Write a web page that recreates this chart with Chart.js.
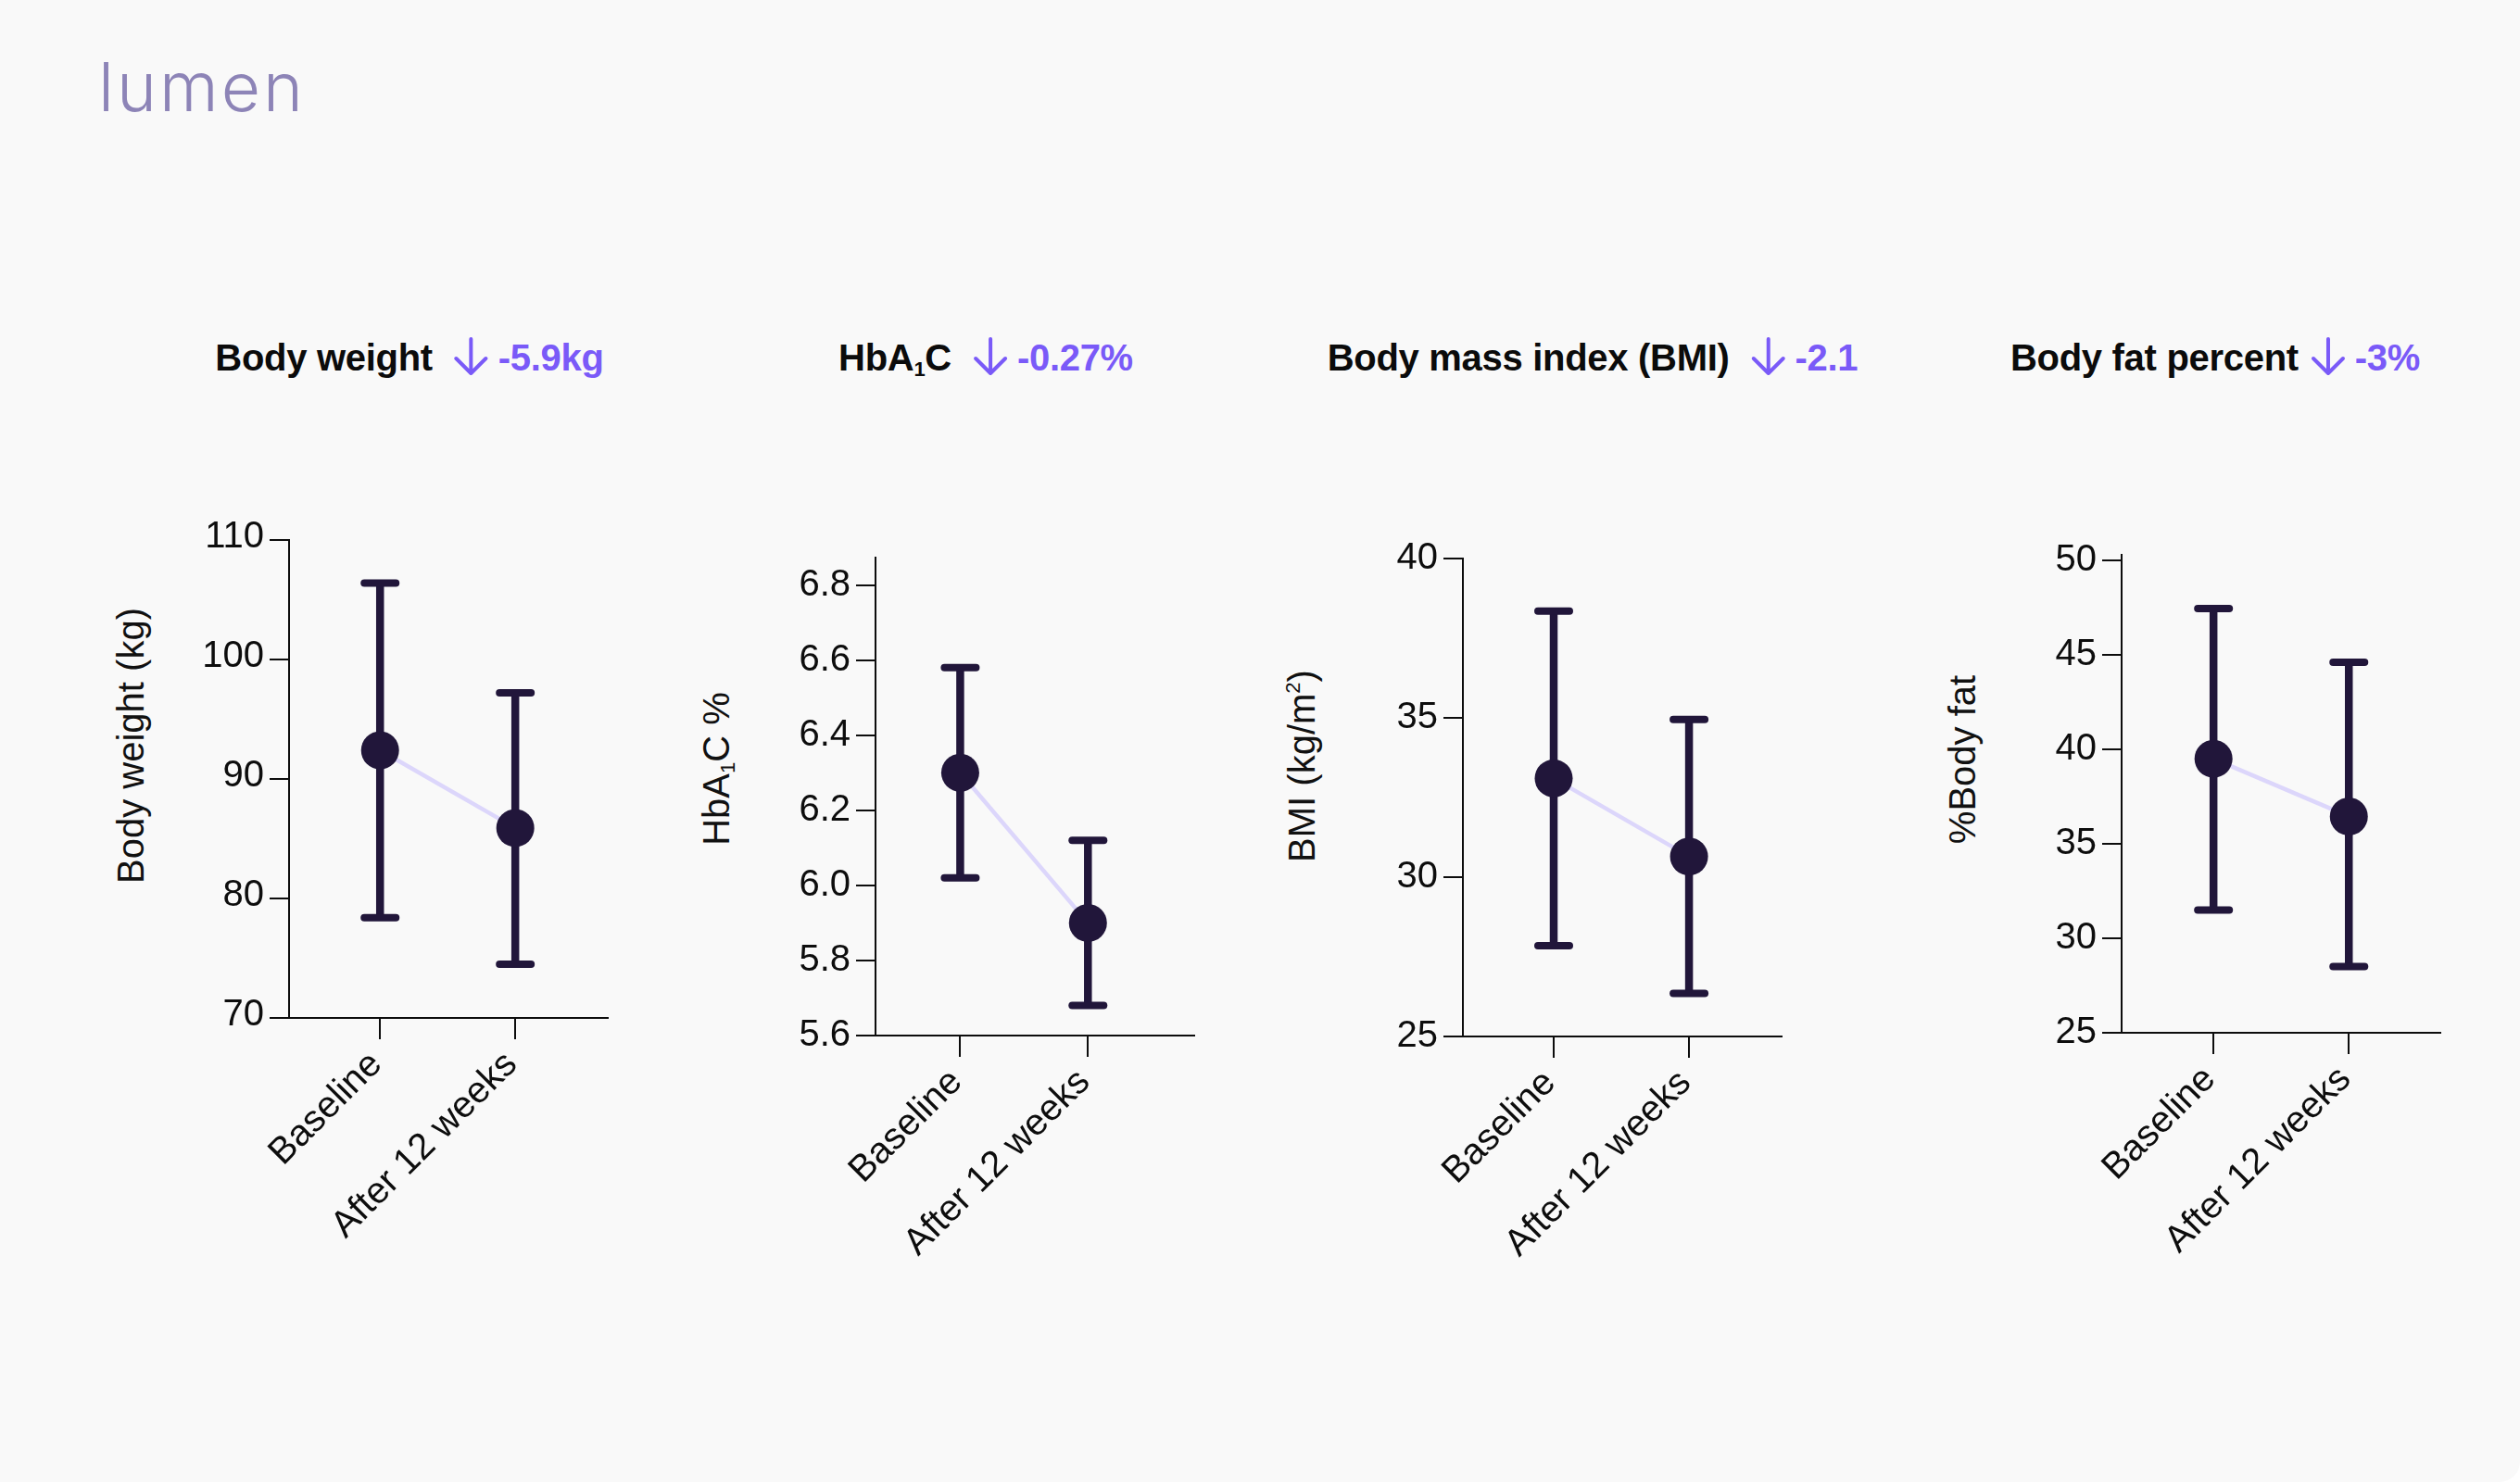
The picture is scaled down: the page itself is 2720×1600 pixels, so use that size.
<!DOCTYPE html>
<html>
<head>
<meta charset="utf-8">
<script src="https://cdn.jsdelivr.net/npm/chart.js@4.4.1/dist/chart.umd.min.js"></script>
<style>
  html, body { margin: 0; padding: 0; background: #ffffff; }
  #page { position: relative; width: 2720px; height: 1600px; background: #f9f9f9; border-radius: 0 0 22px 0; overflow: hidden; font-family: "Liberation Sans", Arial, sans-serif; }
  canvas { position: absolute; }
  .logo { position: absolute; left: 106px; top: 57px; font-family: Inter, "Noto Sans", sans-serif; font-weight: 300; font-size: 73px; line-height: 1; letter-spacing: 3px; color: #8d84b7; }
  .title { position: absolute; top: 366px; transform: translateX(-50%); display: flex; align-items: flex-start; white-space: nowrap; font-weight: 700; font-size: 40px; line-height: 1; letter-spacing: -0.3px; }
  .title .name { color: #0b0b0b; }
  .title .delta { color: #7a5af8; margin-left: 10px; }
  .title svg { margin-top: -2px; margin-left: 23px; }
  .title sub, .ytitle sub { font-size: 0.55em; line-height: 0; vertical-align: -0.28em; }
  .ytitle sup { font-size: 0.55em; line-height: 0; vertical-align: 0.75em; }
  .ytitle { position: absolute; transform: translate(-50%, -50%) rotate(-90deg); white-space: nowrap; font-size: 40px; line-height: 1; color: #111; }
</style>
</head>
<body>
<div id="page">
  <div class="logo">lumen</div>

  <div class="title" style="left:442px"><span class="name">Body weight</span><svg width="38" height="42" viewBox="0 0 38 42"><path d="M19 2 V39 M3 23 L19 39 L35 23" fill="none" stroke="#7a5af8" stroke-width="4" stroke-linecap="round" stroke-linejoin="round"/></svg><span class="delta">-5.9kg</span></div>
  <div class="title" style="left:1064px"><span class="name">HbA<sub>1</sub>C</span><svg width="38" height="42" viewBox="0 0 38 42"><path d="M19 2 V39 M3 23 L19 39 L35 23" fill="none" stroke="#7a5af8" stroke-width="4" stroke-linecap="round" stroke-linejoin="round"/></svg><span class="delta">-0.27%</span></div>
  <div class="title" style="left:1719px"><span class="name">Body mass index (BMI)</span><svg width="38" height="42" viewBox="0 0 38 42"><path d="M19 2 V39 M3 23 L19 39 L35 23" fill="none" stroke="#7a5af8" stroke-width="4" stroke-linecap="round" stroke-linejoin="round"/></svg><span class="delta">-2.1</span></div>
  <div class="title" style="left:2391px"><span class="name">Body fat percent</span><svg width="38" height="42" viewBox="0 0 38 42" style="margin-left:13px"><path d="M19 2 V39 M3 23 L19 39 L35 23" fill="none" stroke="#7a5af8" stroke-width="4" stroke-linecap="round" stroke-linejoin="round"/></svg><span class="delta">-3%</span></div>

  <div class="ytitle" style="left:141px; top:805px">Body weight (kg)</div>
  <div class="ytitle" style="left:773px; top:830px">HbA<sub>1</sub>C %</div>
  <div class="ytitle" style="left:1405px; top:827px">BMI (kg/m<sup>2</sup>)</div>
  <div class="ytitle" style="left:2118px; top:820px">%Body fat</div>

  <canvas id="weightChart" width="624" height="856" style="left:72px; top:543px"></canvas>
  <canvas id="hba1cChart" width="624" height="856" style="left:705px; top:562px"></canvas>
  <canvas id="bmiChart" width="624" height="856" style="left:1339px; top:563px"></canvas>
  <canvas id="fatChart" width="624" height="856" style="left:2050px; top:559px"></canvas>
</div>

<script>
// --- dados ---
const categories = ['Baseline', 'After 12 weeks'];

const weightMean = [92.4, 85.9];
const weightLow = [78.4, 74.5];
const weightHigh = [106.4, 97.2];
const weightTicks = [70, 80, 90, 100, 110];

const hba1cMean = [6.30, 5.90];
const hba1cLow = [6.02, 5.68];
const hba1cHigh = [6.58, 6.12];
const hba1cTicks = [5.6, 5.8, 6.0, 6.2, 6.4, 6.6, 6.8];

const bmiMean = [33.1, 30.65];
const bmiLow = [27.85, 26.35];
const bmiHigh = [38.35, 34.95];
const bmiTicks = [25, 30, 35, 40];

const fatMean = [39.5, 36.45];
const fatLow = [31.5, 28.5];
const fatHigh = [47.45, 44.6];
const fatTicks = [25, 30, 35, 40, 45, 50];

const dark = '#21163a';
const lavender = '#dcd6fb';
const axisColor = '#0d0d0d';
const tickFont = { family: '"Liberation Sans", Arial, sans-serif', size: 40 };

// barras de erro desenhadas com as escalas do Chart.js
const errorBars = {
    id: 'errorBars',
    beforeDatasetsDraw(chart) {
        const ctx = chart.ctx;
        const xScale = chart.scales.x;
        const yScale = chart.scales.y;
        chart.data.datasets.forEach(ds => {
            ds.data.forEach((p, i) => {
                const px = xScale.getPixelForValue(p.x);
                const top = yScale.getPixelForValue(ds.errHigh[i]);
                const bottom = yScale.getPixelForValue(ds.errLow[i]);
                ctx.save();
                ctx.strokeStyle = dark;
                ctx.lineWidth = 8.5;
                ctx.lineCap = 'butt';
                ctx.beginPath();
                ctx.moveTo(px, top);
                ctx.lineTo(px, bottom);
                ctx.stroke();
                ctx.lineWidth = 8;
                ctx.lineCap = 'round';
                [top, bottom].forEach(yy => {
                    ctx.beginPath();
                    ctx.moveTo(px - 17, yy);
                    ctx.lineTo(px + 17, yy);
                    ctx.stroke();
                });
                ctx.restore();
            });
        });
    }
};

function makePanel(id, mean, low, high, ticks, opts) {
    new Chart(document.getElementById(id), {
        type: 'line',
        data: {
            datasets: [{
                data: mean.map((v, i) => ({ x: i, y: v })),
                errLow: low,
                errHigh: high,
                borderColor: lavender,
                borderWidth: 4.5,
                pointRadius: 20.5,
                pointHoverRadius: 20.5,
                pointBackgroundColor: dark,
                pointBorderColor: dark,
                pointBorderWidth: 0,
                clip: false
            }]
        },
        options: {
            responsive: false,
            animation: false,
            layout: { padding: { top: 40, right: 40, left: 0, bottom: 0 } },
            plugins: { legend: { display: false }, tooltip: { enabled: false } },
            scales: {
                x: {
                    type: 'linear',
                    min: opts.xMin,
                    max: opts.xMax,
                    afterBuildTicks: s => { s.ticks = categories.map((_, i) => ({ value: i })); },
                    afterFit: s => { s.height = 300; },
                    ticks: {
                        callback: v => categories[v],
                        autoSkip: false,
                        minRotation: 45,
                        maxRotation: 45,
                        padding: 4,
                        labelOffset: -4,
                        color: axisColor,
                        font: tickFont
                    },
                    grid: { drawOnChartArea: false, tickLength: 23, color: axisColor, lineWidth: 2 },
                    border: { color: axisColor, width: 2 }
                },
                y: {
                    min: opts.yMin,
                    max: opts.yMax,
                    afterBuildTicks: s => { s.ticks = ticks.map(v => ({ value: v })); },
                    afterFit: s => { s.width = 240; },
                    ticks: {
                        callback: v => v.toFixed(opts.decimals),
                        padding: 6,
                        labelOffset: opts.labelOffset || 0,
                        color: axisColor,
                        font: tickFont
                    },
                    grid: { drawOnChartArea: false, tickLength: 21, color: axisColor, lineWidth: 2 },
                    border: { color: axisColor, width: 2 }
                }
            }
        },
        plugins: [errorBars]
    });
}

makePanel('weightChart', weightMean, weightLow, weightHigh, weightTicks,
    { xMin: -0.673, xMax: 1.684, yMin: 70, yMax: 110, decimals: 0, labelOffset: -3 });
makePanel('hba1cChart', hba1cMean, hba1cLow, hba1cHigh, hba1cTicks,
    { xMin: -0.663, xMax: 1.832, yMin: 5.6, yMax: 6.873, decimals: 1 });
makePanel('bmiChart', bmiMean, bmiLow, bmiHigh, bmiTicks,
    { xMin: -0.671, xMax: 1.684, yMin: 25, yMax: 40, decimals: 0 });
makePanel('fatChart', fatMean, fatLow, fatHigh, fatTicks,
    { xMin: -0.679, xMax: 1.676, yMin: 25, yMax: 50.29, decimals: 0 });
</script>
</body>
</html>
